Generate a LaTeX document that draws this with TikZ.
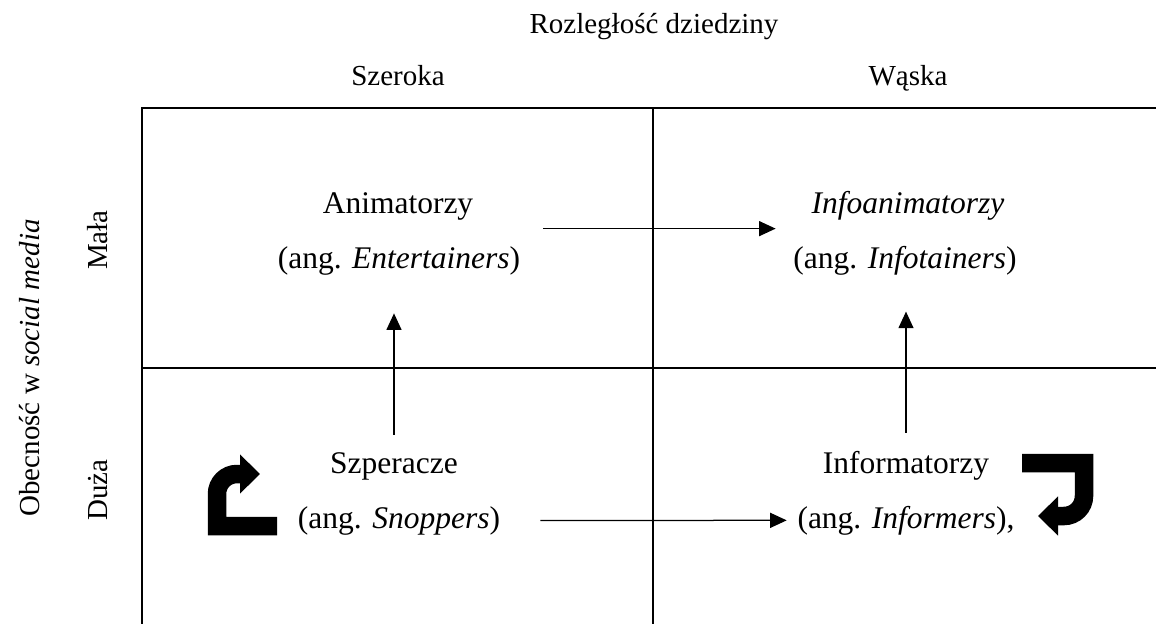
\documentclass[tikz,border=0pt]{standalone}
\usepackage{fontspec}
\setmainfont{Liberation Serif}
\usetikzlibrary{arrows.meta}

\begin{document}
\begin{tikzpicture}[x=0.4pt,y=0.4pt,
    lbl/.style={font=\fontsize{12.6}{15}\selectfont,anchor=base},
    axis/.style={font=\fontsize{11.6}{14}\selectfont},
    grid/.style={line width=0.8pt},
    arr/.style={-{Triangle[length=6.6pt,width=6pt]},line width=0.5pt},
    uturn/.style={-{Triangle[length=8pt,width=15.2pt]},line width=7.4pt}]
  \useasboundingbox (0,0) rectangle (1156,623);
  \draw[grid] (142,-5) -- (142,515) -- (1161,515);
  \draw[grid] (653,-5) -- (653,515);
  \draw[grid] (142,255) -- (1161,255);
  \node[axis,anchor=base] (domain) at (654,590) {Rozległość dziedziny};
  \node[axis,anchor=base] (broad) at (398,538) {Szeroka};
  \node[axis,anchor=base] (narrow) at (908,538) {Wąska};
  \node[axis,rotate=90] (presence) at (30,255) {Obecność w \textit{social media}};
  \node[axis,rotate=90] (low) at (98,383) {Mała};
  \node[axis,rotate=90] (high) at (98,133) {Duża};
  \node[lbl] (anim) at (398,410) {Animatorzy};
  \node[lbl] (animEn) at (399,355) {(ang. \textit{Entertainers})};
  \node[lbl] (infoanim) at (908,410) {\textit{Infoanimatorzy}};
  \node[lbl] (infoanimEn) at (905,355) {(ang. \textit{Infotainers})};
  \node[lbl] (snoop) at (394,150) {Szperacze};
  \node[lbl] (snoopEn) at (399,95) {(ang. \textit{Snoppers})};
  \node[lbl] (inform) at (906,150) {Informatorzy};
  \node[lbl] (informEn) at (906,95) {(ang. \textit{Informers}),};
  \draw[arr,shorten <=5.8pt,shorten >=3.6pt]
    (animEn.east |- anim.south) -- (infoanimEn.west |- anim.south);
  \draw[arr,shorten <=12.6pt,shorten >=0.8pt] (snoopEn) -- (informEn);
  \draw[arr,shorten <=3.5pt,shorten >=11.9pt]
    (snoop.north) -- (snoop.north |- animEn.south);
  \draw[arr,shorten <=3.6pt,shorten >=11.2pt]
    (inform.north) -- (inform.north |- infoanimEn.south);
  \draw[uturn] (277,97) -- (217,97) -- (217,129) to[out=90,in=180] (237,149) -- (260,149);
  \draw[uturn] (1022,160) -- (1084,160) -- (1084,127) to[out=-90,in=0] (1064,107) -- (1038,107);
\end{tikzpicture}
\end{document}
